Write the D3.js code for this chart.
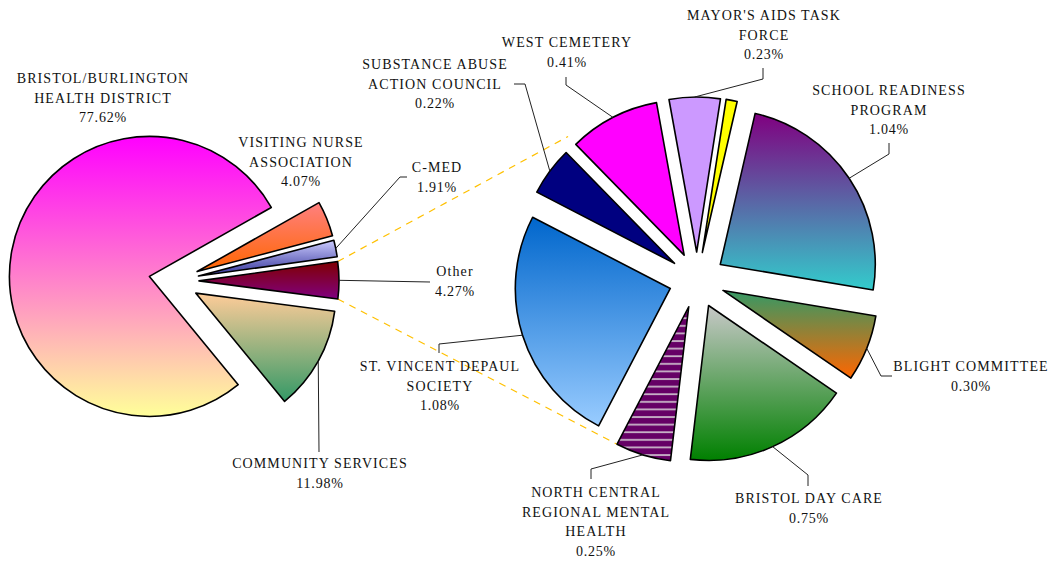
<!DOCTYPE html>
<html>
<head>
<meta charset="utf-8">
<script src="https://cdn.jsdelivr.net/npm/d3@7"></script>
<style>
  body { margin: 0; background: #fff; }
  text { font-family: "Liberation Serif", "Times New Roman", serif; font-size: 14px; fill: #111; letter-spacing: 1.1px; }
</style>
</head>
<body>
<svg id="drawing_region"></svg>
<script>
// main pie (share of total, %)
const mainNames = ["VISITING NURSE\nASSOCIATION", "C-MED", "Other", "COMMUNITY SERVICES", "BRISTOL/BURLINGTON\nHEALTH DISTRICT"]
const mainShares = [4.07, 1.91, 4.27, 11.98, 77.62]

// second pie: breakdown of "Other" (share of total, %)
const subNames = ["SCHOOL READINESS\nPROGRAM", "BLIGHT COMMITTEE", "BRISTOL DAY CARE", "NORTH CENTRAL\nREGIONAL MENTAL\nHEALTH",
  "ST. VINCENT DEPAUL\nSOCIETY", "SUBSTANCE ABUSE\nACTION COUNCIL", "WEST CEMETERY", "MAYOR'S AIDS TASK\nFORCE", ""]
const subShares = [1.04, 0.30, 0.75, 0.25, 1.08, 0.22, 0.41, 0.23, 0.05]

// fills: [top, bottom] gradient or plain colour
const mainFills = [["#ff8080", "#ff6600"], ["#ccccff", "#333399"], ["#800000", "#800080"], ["#ffcc99", "#339966"], ["#ff00ff", "#ffff99"]]
const subFills = [["#800080", "#33cccc"], ["#339966", "#ff6600"], ["#c8c8c8", "#008000"], "stripes",
  ["#0066cc", "#99ccff"], "#000080", "#ff00ff", "#cc99ff", "#ffff00"]

// label placement: first baseline centre, leader bend / end points
const mainLabels = [
  {x: 301, y: 147},
  {x: 437, y: 172, leader: [[400, 177], [407, 177]]},
  {x: 455, y: 276, leader: [[430, 282]]},
  {x: 320, y: 468, leader: [[319, 452]]},
  {x: 103, y: 83}
]
const subLabels = [
  {x: 889, y: 95, leader: [[889, 154], [889, 143]]},
  {x: 971, y: 371, leader: [[881, 376], [892, 376]]},
  {x: 809, y: 503, leader: [[808, 475], [808, 486]]},
  {x: 596, y: 497, leader: [[591, 469], [591, 479]]},
  {x: 440, y: 371, leader: [[439, 344], [439, 353]]},
  {x: 435, y: 69, leader: [[525, 84], [514, 84]]},
  {x: 567, y: 47, leader: [[566, 85], [566, 77]]},
  {x: 764, y: 20, leader: [[763, 79], [763, 68]]},
  null
]

const width = 1053, height = 561
const deg = Math.PI / 180
const lineH = 19.5

const svg = d3.select('#drawing_region').attr('width', width).attr('height', height)
const defs = svg.append('defs')

// stripes for North Central
const pat = defs.append('pattern').attr('id', 'stripes')
  .attr('patternUnits', 'userSpaceOnUse').attr('width', 8).attr('height', 7.6)
pat.append('rect').attr('width', 8).attr('height', 7.6).attr('fill', '#660066')
pat.append('rect').attr('y', 3).attr('width', 8).attr('height', 1.8).attr('fill', '#c8b4c8')

const lineLayer = svg.append('g')
const pieLayer = svg.append('g')
const labelLayer = svg.append('g')

function makePie(conf){
  const pie = d3.pie().value(d => d).sort(null)
    .startAngle(conf.start).endAngle(conf.start + 2 * Math.PI)
  const arc = d3.arc().innerRadius(0).outerRadius(conf.r)
  const slices = pie(conf.shares).map((a, i) => {
    const mid = (a.startAngle + a.endAngle) / 2
    const tx = conf.cx + Math.sin(mid) * conf.explode
    const ty = conf.cy - Math.cos(mid) * conf.explode
    return {a, i, mid, tx, ty,
      corner: (ang, rr = conf.r) => [tx + Math.sin(ang) * rr, ty - Math.cos(ang) * rr],
      rim: [tx + Math.sin(mid) * conf.r, ty - Math.cos(mid) * conf.r]}
  })

  slices.forEach(s => {
    const f = conf.fills[s.i]
    let fill = f
    if (Array.isArray(f)) {
      const id = `${conf.id}-g${s.i}`
      const gr = defs.append('linearGradient').attr('id', id)
        .attr('x1', 0).attr('y1', 0).attr('x2', 0).attr('y2', 1)
      gr.append('stop').attr('offset', '0%').attr('stop-color', f[0])
      gr.append('stop').attr('offset', '100%').attr('stop-color', f[1])
      fill = `url(#${id})`
    } else if (f === 'stripes') {
      fill = 'url(#stripes)'
    }
    pieLayer.append('path')
      .attr('transform', `translate(${s.tx},${s.ty})`)
      .attr('d', arc(s.a))
      .attr('fill', fill)
      .attr('stroke', '#000')
      .attr('stroke-width', 1.6)
      .attr('stroke-linejoin', 'round')
  })

  slices.forEach(s => {
    const lab = conf.labels[s.i]
    if (!lab) return
    if (lab.leader) {
      labelLayer.append('path')
        .attr('d', d3.line()([s.rim, ...lab.leader]))
        .attr('fill', 'none').attr('stroke', '#222').attr('stroke-width', 1)
    }
    const lines = conf.names[s.i].split('\n')
    lines.push(conf.shares[s.i].toFixed(2) + '%')
    const t = labelLayer.append('text').attr('text-anchor', 'middle')
    lines.forEach((l, k) => {
      t.append('tspan').attr('x', lab.x).attr('y', lab.y + k * lineH)
        .style('letter-spacing', k === lines.length - 1 ? '0.8px' : null)
        .text(l)
    })
  })
  return slices
}

const main = makePie({id: 'm', shares: mainShares, names: mainNames, fills: mainFills, labels: mainLabels,
  cx: 174, cy: 281, r: 140, explode: 25, start: 60.5 * deg})
const sub = makePie({id: 's', shares: subShares, names: subNames, fills: subFills, labels: subLabels,
  cx: 697, cy: 280, r: 155, explode: 28, start: 13 * deg})

// dashed connectors from "Other" to the second pie
const other = main[2]
const links = [
  [other.corner(other.a.startAngle), sub[6].corner(sub[6].a.startAngle, 166)],
  [other.corner(other.a.endAngle), sub[3].corner(sub[3].a.endAngle)]
]
lineLayer.selectAll('line').data(links).enter()
  .append('line')
  .attr('x1', d => d[0][0]).attr('y1', d => d[0][1])
  .attr('x2', d => d[1][0]).attr('y2', d => d[1][1])
  .attr('stroke', '#ffc000')
  .attr('stroke-width', 1.2)
  .attr('stroke-dasharray', '7,6')
</script>
</body>
</html>
